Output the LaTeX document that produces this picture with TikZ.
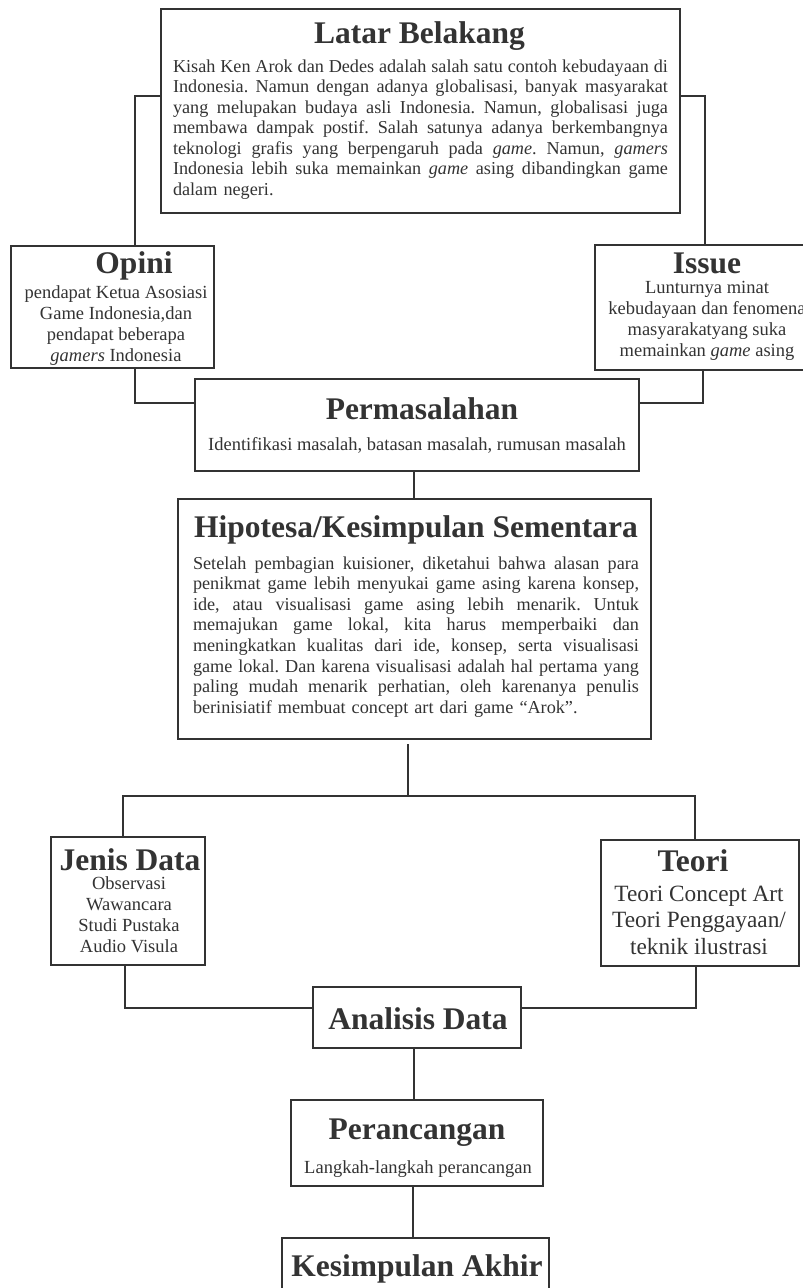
\documentclass[tikz,border=0pt]{standalone}
\usepackage{fontspec}
\setmainfont{Liberation Serif}
\definecolor{ink}{HTML}{333333}
\tikzstyle{Box}=[draw=ink, line width=1.1pt, fill=white, inner sep=0pt]
\tikzstyle{Title}=[text=ink, inner sep=0pt, anchor=base, font=\fontsize{31.5}{34}\selectfont\bfseries]
\tikzstyle{Body}=[text=ink, inner sep=0pt, anchor=base, align=center, font=\fontsize{18.5}{21}\selectfont]
\tikzstyle{Link}=[draw=ink, line width=1.1pt]
\newcommand{\jline}[1]{\makebox[\linewidth][s]{\spaceskip=0.25em plus 0.6em minus 0.14em #1}}
\pgfdeclarelayer{nodelayer}
\pgfdeclarelayer{edgelayer}
\pgfsetlayers{main, nodelayer, edgelayer}
\frenchspacing
\begin{document}
\begin{tikzpicture}[x=1pt, y=-1pt]
	\useasboundingbox [fill=white] (0,0) rectangle (803,1288);
	\begin{pgfonlayer}{nodelayer}
		\node [style=Box, minimum width=519pt, minimum height=204pt] (latar) at (420.5, 111) {};
		\node [style=Box, minimum width=203pt, minimum height=122pt] (opini) at (112.5, 307) {};
		\node [style=Box, minimum width=220pt, minimum height=125pt] (issue) at (705, 307.5) {};
		\node [style=Box, minimum width=444pt, minimum height=92pt] (perm) at (417, 425) {};
		\node [style=Box, minimum width=473pt, minimum height=240pt] (hipo) at (414.5, 619) {};
		\node [style=Box, minimum width=154pt, minimum height=128pt] (jenis) at (128, 901) {};
		\node [style=Box, minimum width=198pt, minimum height=126pt] (teori) at (700, 903) {};
		\node [style=Box, minimum width=208pt, minimum height=61pt] (ana) at (417, 1017.5) {};
		\node [style=Box, minimum width=252pt, minimum height=86pt] (per) at (417, 1143) {};
		\node [style=Box, minimum width=267pt, minimum height=104pt] (kes) at (415.5, 1290) {};

		\node [style=Title] (latarTitle) at (419.5, 43) {Latar Belakang};
		\node [style=Body, text width=495pt, align=left, font=\fontsize{18.2}{20.5}\selectfont] (latarText) at (420.5, 72) {\jline{Kisah Ken Arok dan Dedes adalah salah satu contoh kebudayaan di}\\
			\jline{Indonesia. Namun dengan adanya globalisasi, banyak masyarakat}\\
			\jline{yang melupakan budaya asli Indonesia. Namun, globalisasi juga}\\
			\jline{membawa dampak postif. Salah satunya adanya berkembangnya}\\
			\jline{teknologi grafis yang berpengaruh pada \emph{game}. Namun, \emph{gamers}}\\
			\jline{Indonesia lebih suka memainkan \emph{game} asing dibandingkan game}\\
			dalam negeri.};
		\node [style=Title] (opiniTitle) at (134, 273) {Opini};
		\node [style=Body] (opiniText) at (116, 361) {pendapat Ketua Asosiasi\\Game Indonesia,dan\\pendapat beberapa\\\emph{gamers} Indonesia};
		\node [style=Title] (issueTitle) at (707, 273) {Issue};
		\node [style=Body] (issueText) at (707, 356) {Lunturnya minat\\kebudayaan dan fenomena\\masyarakatyang suka\\memainkan \emph{game} asing};
		\node [style=Title] (permTitle) at (422, 419) {Permasalahan};
		\node [style=Body] (permText) at (417, 450) {Identifikasi masalah, batasan masalah, rumusan masalah};
		\node [style=Title] (hipoTitle) at (416, 537) {Hipotesa/Kesimpulan Sementara};
		\node [style=Body, text width=446pt, align=left, font=\fontsize{18.2}{20.6}\selectfont] (hipoText) at (416, 569) {\jline{Setelah pembagian kuisioner, diketahui bahwa alasan para}\\
			\jline{penikmat game lebih menyukai game asing karena konsep,}\\
			\jline{ide, atau visualisasi game asing lebih menarik. Untuk}\\
			\jline{memajukan game lokal, kita harus memperbaiki dan}\\
			\jline{meningkatkan kualitas dari ide, konsep, serta visualisasi}\\
			\jline{game lokal. Dan karena visualisasi adalah hal pertama yang}\\
			\jline{paling mudah menarik perhatian, oleh karenanya penulis}\\
			berinisiatif membuat concept art dari game “Arok”.};
		\node [style=Title] (jenisTitle) at (130, 870) {Jenis Data};
		\node [style=Body] (jenisText) at (129, 952) {Observasi\\Wawancara\\Studi Pustaka\\Audio Visula};
		\node [style=Title] (teoriTitle) at (693, 871) {Teori};
		\node [style=Body, font=\fontsize{23.3}{26.5}\selectfont] (teoriText) at (699, 954) {Teori Concept Art\\Teori Penggayaan/\\teknik ilustrasi};
		\node [style=Title] (anaTitle) at (418, 1029) {Analisis Data};
		\node [style=Title] (perTitle) at (417, 1139) {Perancangan};
		\node [style=Body] (perText) at (418, 1173) {Langkah-langkah perancangan};
		\node [style=Title] (kesTitle) at (417, 1276) {Kesimpulan Akhir};
		\coordinate (fork) at (408, 796);
	\end{pgfonlayer}
	\begin{pgfonlayer}{edgelayer}
		\draw [style=Link] ([yshift=15pt]latar.west) -| ([xshift=22.5pt]opini.north);
		\draw [style=Link] ([yshift=15pt]latar.east) -| (issue.north);
		\draw [style=Link] ([xshift=22.5pt]opini.south) |- ([yshift=22pt]perm.west);
		\draw [style=Link] ([xshift=-2pt]issue.south) |- ([yshift=22pt]perm.east);
		\draw [style=Link] ([xshift=-3pt]perm.south) -- ([xshift=-0.5pt]hipo.north);
		\draw [style=Link, shorten >=4pt] (fork) -- (fork |- hipo.south);
		\draw [style=Link] ([xshift=-5pt]jenis.north) |- (fork) -| ([xshift=-5pt]teori.north);
		\draw [style=Link] ([xshift=-3pt]jenis.south) |- ([yshift=9.5pt]ana.west);
		\draw [style=Link] ([xshift=-4pt]teori.south) |- ([yshift=9.5pt]ana.east);
		\draw [style=Link] ([xshift=-3pt]ana.south) -- ([xshift=-3pt]per.north);
		\draw [style=Link] ([xshift=-4pt]per.south) -- ([xshift=-2.5pt]kes.north);
	\end{pgfonlayer}
\end{tikzpicture}
\end{document}
